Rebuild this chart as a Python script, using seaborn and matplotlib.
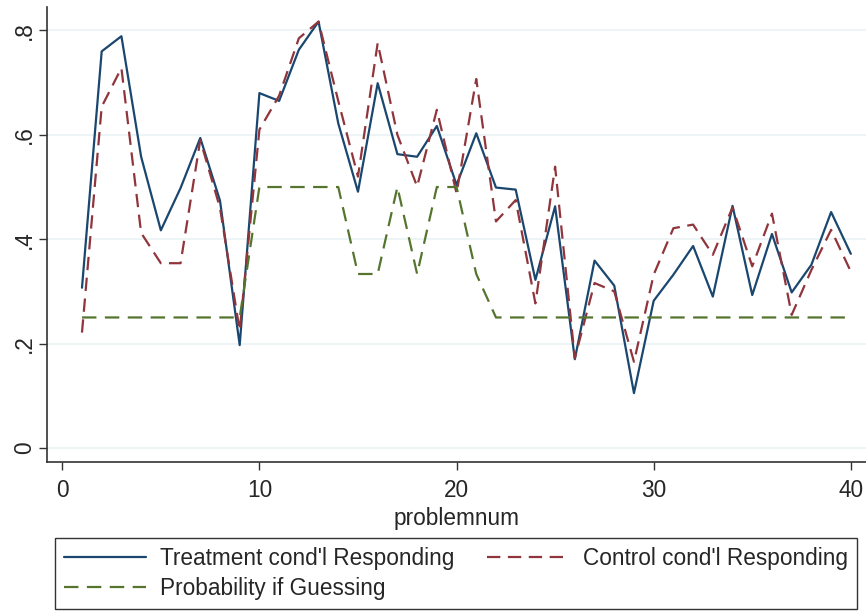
import numpy as np
import pandas as pd
import matplotlib
matplotlib.use("Agg")
import matplotlib.pyplot as plt
from matplotlib.lines import Line2D
import seaborn as sns

problemnum = list(range(1, 41))
treatment = [0.307, 0.760, 0.789, 0.558, 0.417, 0.498, 0.594, 0.474, 0.197, 0.680,
             0.665, 0.763, 0.817, 0.622, 0.491, 0.699, 0.563, 0.558, 0.617, 0.504,
             0.603, 0.499, 0.495, 0.322, 0.463, 0.170, 0.359, 0.311, 0.105, 0.282,
             0.332, 0.387, 0.290, 0.464, 0.293, 0.410, 0.298, 0.351, 0.452, 0.372]
control = [0.221, 0.654, 0.728, 0.412, 0.354, 0.354, 0.590, 0.460, 0.225, 0.610,
           0.675, 0.785, 0.817, 0.665, 0.520, 0.776, 0.600, 0.501, 0.648, 0.488,
           0.707, 0.434, 0.475, 0.277, 0.539, 0.172, 0.316, 0.300, 0.165, 0.332,
           0.421, 0.428, 0.370, 0.461, 0.348, 0.449, 0.255, 0.341, 0.418, 0.338]
guessing = [0.25] * 9 + [0.5] * 5 + [1/3, 1/3, 0.5, 1/3, 0.5, 0.5, 1/3] + [0.25] * 19

labels = ["Treatment cond'l Responding", "Control cond'l Responding", "Probability if Guessing"]
yticks = [0, 0.2, 0.4, 0.6, 0.8]
yticklabels = ["0", ".2", ".4", ".6", ".8"]
xticks = [0, 10, 20, 30, 40]

df = pd.DataFrame({
    "problemnum": problemnum * 3,
    "value": treatment + control + guessing,
    "series": [labels[0]] * 40 + [labels[1]] * 40 + [labels[2]] * 40,
})

sns.set_style("white")
plt.rcParams["font.family"] = ["Liberation Sans", "DejaVu Sans"]
FS = 16.3

fig = plt.figure(figsize=(8.66, 6.12), dpi=100)
ax = fig.add_axes([46.5 / 866, (612 - 462) / 612, 1 - 46.5 / 866, (462 - 7) / 612])

colors = {labels[0]: "#1a476f", labels[1]: "#90353b", labels[2]: "#55752f"}
dashes = {labels[0]: "", labels[1]: (6, 3.4), labels[2]: (6.5, 3.8)}
LW = 1.6
sns.lineplot(data=df, x="problemnum", y="value", hue="series", style="series",
             palette=colors, dashes=dashes, linewidth=LW, ax=ax, legend=False)

ax.set_xlim(-0.8, 40.77)
ax.set_ylim(-0.027, 0.845)
ax.set_yticks(yticks)
ax.set_yticklabels(yticklabels, rotation=90, va="center")
ax.set_xticks(xticks)
ax.tick_params(axis="both", direction="out", length=6, width=1, color="#333333",
               labelsize=FS, left=True, bottom=True)
ax.tick_params(axis="y", pad=1.5)
ax.tick_params(axis="x", pad=6.5)
ax.grid(axis="y", color="#eaf2f3", linewidth=1.2)
ax.grid(axis="x", visible=False)
for s in ["top", "right"]:
    ax.spines[s].set_visible(False)
for s in ["left", "bottom"]:
    ax.spines[s].set_color("#333333")
    ax.spines[s].set_linewidth(1.2)
ax.set_xlabel("problemnum", fontsize=FS, labelpad=3)
ax.set_ylabel("")

def proxy(lab):
    d = dashes[lab]
    if d:
        return Line2D([], [], color=colors[lab], linewidth=LW, dashes=d)
    return Line2D([], [], color=colors[lab], linewidth=LW)

order = [labels[0], labels[2], labels[1]]  # column-major fill -> row-wise reading
leg = fig.legend([proxy(l) for l in order], order, ncol=2, loc="center",
                 bbox_to_anchor=((55 + 857) / 2 / 866, 1 - 573.5 / 612),
                 fontsize=FS, frameon=True, fancybox=False, edgecolor="black",
                 handlelength=3.6, handletextpad=0.62, columnspacing=1.45,
                 labelspacing=0.3, borderpad=0.4)
leg.get_frame().set_linewidth(1.0)

fig.savefig("out.png", dpi=100)
